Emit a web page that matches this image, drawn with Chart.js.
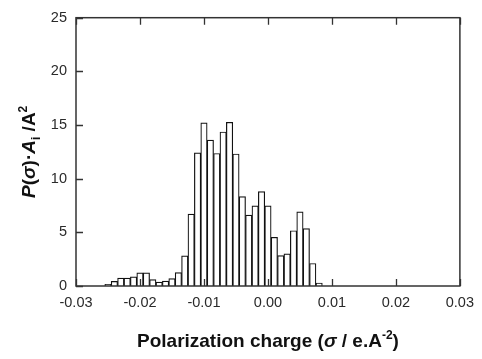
<!doctype html>
<html>
<head>
<meta charset="utf-8">
<title>Polarization charge</title>
<script src="https://cdn.jsdelivr.net/npm/chart.js@4.4.0/dist/chart.umd.min.js"></script>
<style>
body { margin: 0; background: #fff; }
#holder { width: 482px; height: 359px; }
</style>
</head>
<body>
<div id="holder"><canvas id="canvasHisto"></canvas></div>
<script>
// bin centres (sigma, e/A^2) and histogram heights
var sigmaBins = [-0.025, -0.024, -0.023, -0.022, -0.021, -0.020, -0.019, -0.018, -0.017, -0.016,
                 -0.015, -0.014, -0.013, -0.012, -0.011, -0.010, -0.009, -0.008, -0.007, -0.006,
                 -0.005, -0.004, -0.003, -0.002, -0.001, 0.000, 0.001, 0.002, 0.003, 0.004,
                 0.005, 0.006, 0.007, 0.008];
var pSigma = [0.15, 0.43, 0.74, 0.74, 0.86, 1.23, 1.23, 0.59, 0.37, 0.46,
              0.68, 1.25, 2.8, 6.7, 12.4, 15.2, 13.6, 12.35, 14.35, 15.25,
              12.3, 8.33, 6.6, 7.47, 8.8, 7.47, 4.54, 2.84, 3.0, 5.15,
              6.9, 5.34, 2.1, 0.28];
var xTicks = [-0.03, -0.02, -0.01, 0.00, 0.01, 0.02, 0.03];
var yTicks = [0, 5, 10, 15, 20, 25];

var police = '"Liberation Sans", Arial, sans-serif';
var encre = '#2a2a2a';

// draws a line made of several font runs, centred on x
function texteRiche(ctx, morceaux, x, y) {
    var total = 0;
    morceaux.forEach(function(m) { ctx.font = m[1]; total += ctx.measureText(m[0]).width; });
    var cx = x - total / 2;
    morceaux.forEach(function(m) {
        ctx.font = m[1];
        ctx.fillText(m[0], cx, y + (m[2] || 0));
        cx += ctx.measureText(m[0]).width;
    });
}

var cadre = {
    id: 'cadre',
    afterDatasetsDraw: function(chart) {
        var ctx = chart.ctx, a = chart.chartArea;
        var sx = chart.scales.x, sy = chart.scales.y;
        ctx.save();
        ctx.strokeStyle = '#333';
        ctx.lineWidth = 1.5;
        ctx.strokeRect(a.left, a.top, a.right - a.left, a.bottom - a.top);
        ctx.lineWidth = 1.3;
        ctx.beginPath();
        xTicks.forEach(function(v) {
            var px = Math.round(sx.getPixelForValue(v)) + 0.5;
            ctx.moveTo(px, a.bottom); ctx.lineTo(px, a.bottom - 7);
            ctx.moveTo(px, a.top); ctx.lineTo(px, a.top + 7);
        });
        yTicks.forEach(function(v) {
            var py = Math.round(sy.getPixelForValue(v)) + 0.5;
            ctx.moveTo(a.left, py); ctx.lineTo(a.left + 7, py);
        });
        ctx.stroke();

        // axis titles
        var b = 'bold 19px ' + police, bi = 'italic bold 19px ' + police, pt = 'bold 12px ' + police;
        ctx.fillStyle = '#111';
        ctx.textBaseline = 'alphabetic';
        texteRiche(ctx, [
            ['Polarization charge (', b], ['\u03c3', bi], [' / e.A', b], ['-2', pt, -8], [')', b]
        ], (a.left + a.right) / 2, 347);

        ctx.translate(35, (a.top + a.bottom) / 2);
        ctx.rotate(-Math.PI / 2);
        texteRiche(ctx, [
            ['P', bi], ['(', b], ['\u03c3', bi], [')', b], ['\u00b7', b], ['A', bi], ['i', pt, 5],
            [' /A', b], ['2', pt, -8]
        ], 0, 0);
        ctx.restore();
    }
};

var ctx = document.getElementById('canvasHisto').getContext('2d');
new Chart(ctx, {
    type: 'bar',
    data: {
        datasets: [{
            data: sigmaBins.map(function(s, i) { return { x: s, y: pSigma[i] }; }),
            backgroundColor: '#fff',
            borderColor: '#111',
            borderWidth: 1.2,
            barPercentage: 1,
            categoryPercentage: 1
        }]
    },
    options: {
        responsive: true,
        maintainAspectRatio: false,
        animation: false,
        layout: { padding: { left: 0, top: 16, right: 20, bottom: 0 } },
        plugins: { legend: { display: false }, tooltip: { enabled: false } },
        scales: {
            x: {
                type: 'linear',
                offset: false,
                min: -0.03,
                max: 0.03,
                afterBuildTicks: function(s) { s.ticks = xTicks.map(function(v) { return { value: v }; }); },
                afterFit: function(s) { s.height = 73; },
                grid: { display: false, drawTicks: false },
                border: { display: false },
                ticks: {
                    padding: 8,
                    maxRotation: 0,
                    color: encre,
                    font: { family: police, size: 14.5 },
                    callback: function(v) { return Number(v).toFixed(2); }
                }
            },
            y: {
                min: 0,
                max: 25,
                afterBuildTicks: function(s) { s.ticks = yTicks.map(function(v) { return { value: v }; }); },
                afterFit: function(s) { s.width = 76; },
                grid: { display: false, drawTicks: false },
                border: { display: false },
                ticks: {
                    padding: 9,
                    color: encre,
                    font: { family: police, size: 14.5 }
                }
            }
        }
    },
    plugins: [cadre]
});
</script>
</body>
</html>
